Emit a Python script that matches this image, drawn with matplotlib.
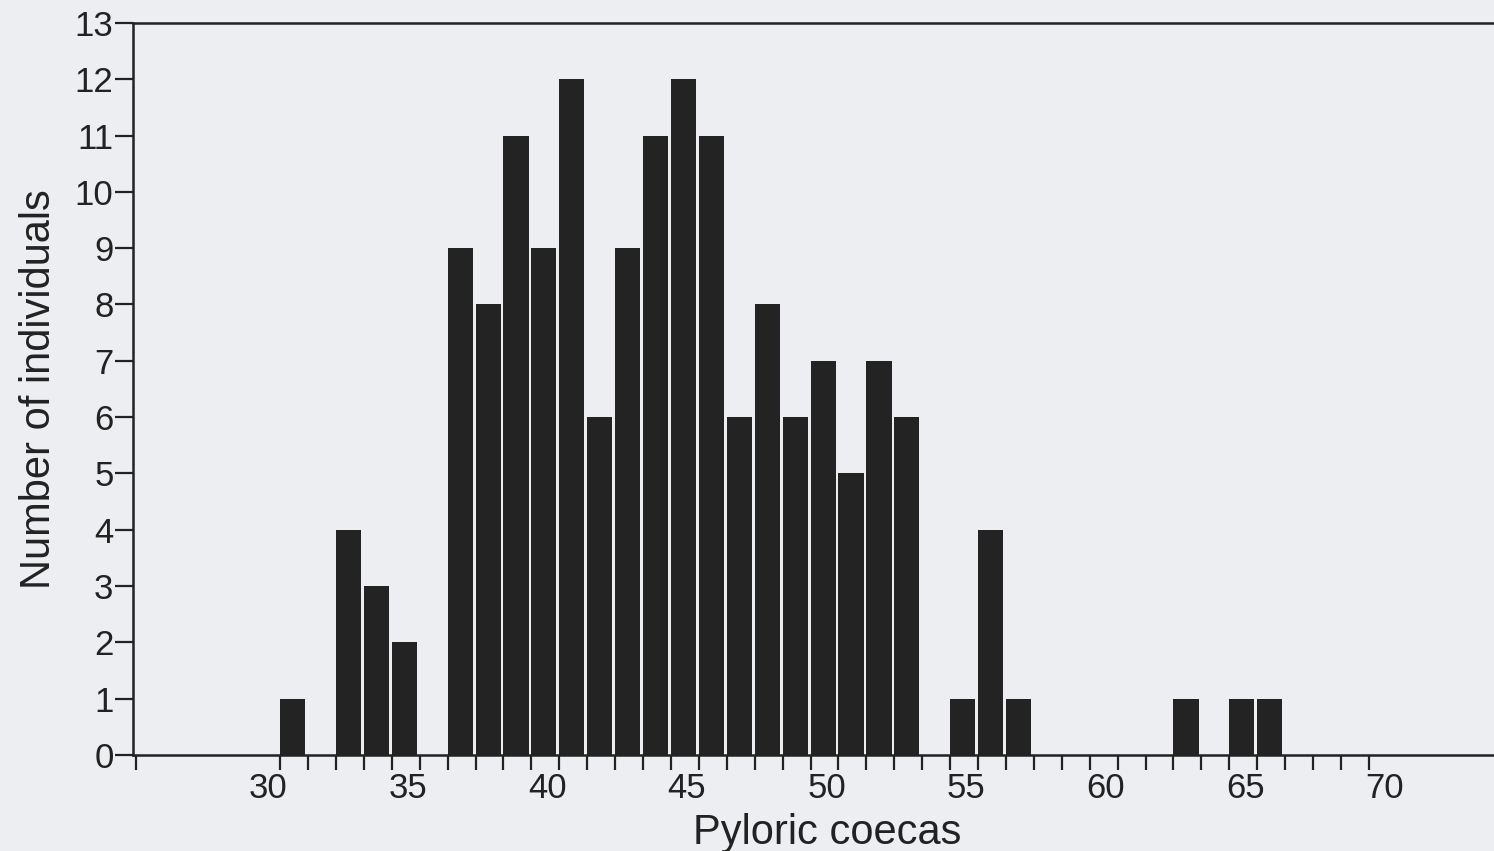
import matplotlib.pyplot as plt
import matplotlib.transforms as mtransforms
import numpy as np

# bin start (pyloric coeca count) and number of individuals
coecas = [30, 32, 33, 34, 36, 37, 38, 39, 40, 41, 42, 43, 44, 45, 46, 47,
          48, 49, 50, 51, 52, 54, 55, 56, 62, 64, 65]
counts = [1, 4, 3, 2, 9, 8, 11, 9, 12, 6, 9, 11, 12, 11, 6, 8,
          6, 7, 5, 7, 6, 1, 4, 1, 1, 1, 1]
x_labels = [30, 35, 40, 45, 50, 55, 60, 65, 70]
y_ticks = list(range(0, 14))

plt.rcParams["font.family"] = ["Liberation Sans", "DejaVu Sans"]
bg = "#eceef2"
ink = "#222222"

fig = plt.figure(figsize=(14.94, 8.51), dpi=100, facecolor=bg)
ax = fig.add_axes([0.089, 0.113, 0.9394, 0.860], facecolor=bg)

ax.bar(coecas, counts, width=0.9, align="edge", color="#232323", edgecolor="none")

ax.set_xlim(24.73, 75)
ax.set_ylim(0, 13)

# tick marks at every integer bin edge (plus one at the axis start), labels every 5
ax.xaxis.remove_overlapping_locs = False
ax.set_xticks([24.85] + list(np.arange(30, 70)), minor=True)
ax.set_xticks(x_labels)
ax.set_xticklabels([str(v) for v in x_labels], fontsize=25)
ax.tick_params(axis="x", which="minor", direction="out", length=11, width=1.6, color=ink)
ax.tick_params(axis="x", which="major", length=0, pad=12, labelcolor=ink)
shift = mtransforms.ScaledTranslation(-12 / 100, 0, fig.dpi_scale_trans)
for lbl in ax.get_xticklabels():
    lbl.set_transform(lbl.get_transform() + shift)

ax.set_yticks(y_ticks)
ax.set_yticklabels([str(v) for v in y_ticks], fontsize=25)
ax.tick_params(axis="y", direction="out", length=13, width=1.6, pad=1,
               color=ink, labelcolor=ink)

for side in ["left", "bottom", "top"]:
    ax.spines[side].set_linewidth(1.8)
    ax.spines[side].set_color(ink)
ax.spines["right"].set_visible(False)

ax.set_xlabel("Pyloric coecas", fontsize=30, color=ink, labelpad=2)
ax.xaxis.set_label_coords(0.4945, -0.079)
ax.xaxis.label.set_va("top")
ax.set_ylabel("Number of individuals", fontsize=30, color=ink, labelpad=11)

fig.savefig("out.png", dpi=100, facecolor=bg)
